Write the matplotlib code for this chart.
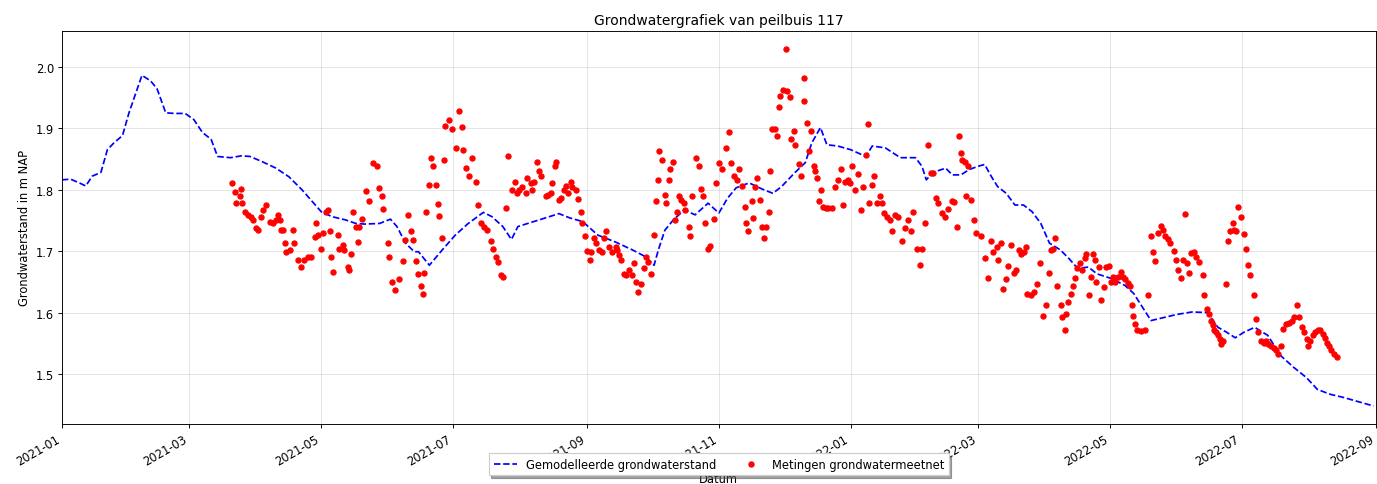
import matplotlib
matplotlib.use("Agg")
import matplotlib.pyplot as plt
import matplotlib.dates as mdates
import pandas as pd

start = pd.Timestamp("2021-01-01")

# gemodelleerde stand: dagen sinds 2021-01-01, m NAP
model_dag = [0, 4, 8, 11, 14, 18, 21, 24, 28, 31,
             37, 41, 44, 48, 52, 57, 61, 65, 69, 72,
             78, 83, 87, 93, 99, 105, 111, 120, 125, 131,
             136, 140, 147, 152, 155, 159, 163, 165, 170, 176,
             182, 188, 195, 199, 204, 208, 211, 221, 230, 235,
             241, 248, 256, 264, 270, 274, 276, 279, 283, 288,
             293, 299, 304, 308, 312, 318, 324, 329, 333, 339,
             344, 347, 351, 354, 359, 365, 372, 375, 381, 388,
             395, 398, 400, 403, 409, 412, 416, 420, 424, 427,
             430, 433, 437, 441, 445, 449, 453, 457, 462, 466,
             470, 475, 479, 486, 492, 496, 500, 504, 510, 516,
             523, 530, 535, 539, 543, 547, 552, 558, 564, 570,
             576, 581, 587, 593, 600, 607]
model_stand = [1.816, 1.817, 1.811, 1.806, 1.822, 1.828, 1.865, 1.876, 1.888, 1.925,
               1.986, 1.977, 1.964, 1.925, 1.924, 1.924, 1.914, 1.893, 1.882, 1.854,
               1.852, 1.855, 1.854, 1.845, 1.835, 1.821, 1.800, 1.764, 1.756, 1.751,
               1.745, 1.744, 1.745, 1.752, 1.740, 1.713, 1.699, 1.699, 1.677, 1.702,
               1.726, 1.745, 1.763, 1.756, 1.740, 1.719, 1.740, 1.751, 1.761, 1.754,
               1.748, 1.726, 1.715, 1.702, 1.691, 1.677, 1.702, 1.734, 1.751, 1.767,
               1.759, 1.778, 1.762, 1.786, 1.803, 1.811, 1.801, 1.794, 1.805, 1.827,
               1.844, 1.876, 1.901, 1.873, 1.871, 1.865, 1.854, 1.871, 1.868, 1.852,
               1.852, 1.838, 1.816, 1.828, 1.835, 1.824, 1.824, 1.833, 1.838, 1.841,
               1.822, 1.805, 1.794, 1.775, 1.775, 1.764, 1.745, 1.713, 1.702, 1.688,
               1.672, 1.674, 1.663, 1.655, 1.644, 1.631, 1.609, 1.587, 1.592, 1.597,
               1.601, 1.600, 1.576, 1.568, 1.559, 1.568, 1.576, 1.563, 1.530, 1.511,
               1.494, 1.475, 1.467, 1.462, 1.455, 1.448]

# metingen grondwatermeetnet
meet_dag = [78.7, 79.9, 80.7, 82.2, 82.7, 83.5, 84.5, 86.0, 87.6, 88.4,
            89.9, 90.7, 92.2, 93.0, 94.5, 96.1, 97.6, 99.2, 99.9, 100.7,
            101.5, 102.1, 103.0, 103.8, 105.3, 106.8, 107.6, 109.1, 110.7, 112.2,
            113.8, 115.3, 116.9, 117.6, 118.4, 120.0, 120.7, 122.3, 122.9, 123.8,
            124.6, 125.3, 127.6, 128.4, 129.9, 130.7, 132.2, 133.0, 133.8, 134.6,
            136.1, 136.9, 137.6, 138.9, 140.7, 141.9, 143.8, 145.6, 146.9, 148.1,
            148.4, 150.7, 151.5, 152.7, 154.3, 156.1, 157.6, 158.9, 160.0, 161.5,
            162.6, 163.8, 164.6, 166.1, 166.9, 167.7, 168.5, 169.7, 170.8, 171.8,
            173.1, 173.8, 174.6, 175.8, 176.9, 177.4, 179.2, 180.7, 182.3, 183.8,
            185.1, 185.4, 186.9, 188.5, 189.7, 191.5, 192.7, 193.9, 195.4, 196.9,
            198.5, 199.5, 200.8, 202.0, 203.1, 204.2, 205.7, 206.6, 208.2, 209.7,
            210.8, 211.5, 213.1, 214.6, 215.4, 216.9, 217.7, 218.5, 220.0, 220.8,
            221.6, 223.9, 225.1, 226.2, 226.9, 228.2, 228.8, 230.0, 230.8, 232.3,
            233.1, 234.3, 235.4, 236.2, 237.7, 238.9, 240.0, 240.8, 242.0, 243.1,
            244.2, 244.7, 246.2, 247.0, 248.5, 249.7, 250.8, 251.9, 253.1, 254.7,
            256.2, 257.0, 257.7, 258.5, 260.0, 261.1, 262.4, 263.6, 264.7, 265.5,
            266.7, 267.8, 269.3, 270.3, 271.3, 272.8, 273.9, 275.0, 275.9, 276.5,
            277.7, 279.0, 279.6, 280.8, 281.6, 282.7, 283.6, 284.7, 285.5, 286.7,
            287.8, 288.5, 290.1, 290.8, 291.6, 293.2, 294.7, 295.5, 296.5, 297.8,
            299.0, 300.1, 301.6, 302.7, 303.9, 305.4, 307.3, 308.5, 309.8, 310.9,
            312.4, 313.5, 314.7, 315.9, 316.5, 317.5, 319.3, 319.6, 320.6, 321.6,
            323.2, 323.9, 324.7, 325.8, 327.0, 327.8, 328.5, 329.8, 330.9, 331.6,
            332.4, 333.5, 335.0, 335.5, 337.0, 337.5, 338.6, 339.4, 340.9, 342.1,
            343.2, 343.6, 344.7, 345.8, 346.7, 347.8, 348.6, 349.3, 350.4, 351.4,
            352.4, 353.5, 354.7, 356.2, 357.8, 359.3, 360.6, 361.6, 362.4, 363.6,
            364.7, 365.8, 367.1, 368.3, 369.8, 370.9, 372.0, 373.2, 373.6, 374.8,
            375.6, 377.0, 378.6, 379.4, 380.6, 381.7, 383.2, 384.3, 385.5, 386.7,
            388.6, 390.2, 391.7, 392.9, 394.0, 395.5, 397.1, 398.2, 399.4, 400.9,
            402.2, 403.2, 404.3, 405.5, 407.1, 408.6, 410.2, 411.7, 413.0, 414.0,
            415.1, 416.1, 416.6, 417.9, 418.2, 419.4, 420.6, 422.2, 423.2, 425.5,
            427.1, 428.6, 429.9, 431.0, 432.5, 433.3, 434.5, 435.6, 436.7, 437.9,
            439.4, 440.6, 441.7, 442.8, 444.0, 445.3, 446.3, 446.8, 448.4, 449.9,
            451.4, 452.5, 454.0, 455.6, 456.7, 457.9, 458.8, 459.7, 460.6, 462.2,
            462.8, 464.1, 464.8, 465.6, 466.8, 467.9, 468.7, 469.9, 471.0, 472.1,
            473.3, 474.1, 475.1, 476.4, 477.1, 477.9, 478.7, 479.8, 481.0, 482.2,
            483.3, 484.4, 485.3, 486.4, 487.4, 488.7, 489.9, 491.0, 492.1, 493.3,
            494.5, 495.2, 495.6, 496.4, 497.6, 499.2, 501.0, 502.5, 503.8, 504.8,
            505.9, 507.2, 508.4, 509.5, 510.5, 511.8, 513.0, 514.5, 515.6, 516.7,
            517.9, 518.7, 519.5, 520.7, 521.8, 522.6, 523.8, 524.9, 526.4, 527.9,
            528.7, 529.9, 531.0, 531.8, 532.6, 533.0, 534.1, 534.9, 535.7, 536.4,
            537.2, 538.7, 539.8, 540.7, 541.8, 542.6, 543.5, 544.4, 545.6, 546.9,
            547.9, 548.7, 550.0, 551.5, 552.6, 553.7, 554.9, 556.1, 557.2, 558.3,
            559.5, 560.7, 561.8, 562.9, 564.1, 564.9, 566.4, 568.0, 569.1, 570.3,
            571.5, 572.6, 573.7, 574.9, 576.1, 576.8, 577.7, 578.8, 579.9, 581.1,
            582.3, 583.4, 584.5, 585.4, 586.5, 587.5, 588.8, 590.0]
meet_stand = [1.811, 1.796, 1.778, 1.789, 1.801, 1.778, 1.764, 1.759, 1.756, 1.751,
              1.737, 1.734, 1.756, 1.767, 1.775, 1.748, 1.745, 1.751, 1.759, 1.751,
              1.734, 1.734, 1.713, 1.699, 1.702, 1.734, 1.713, 1.685, 1.674, 1.685,
              1.690, 1.690, 1.723, 1.745, 1.726, 1.704, 1.730, 1.764, 1.767, 1.732,
              1.690, 1.666, 1.726, 1.704, 1.710, 1.702, 1.674, 1.670, 1.696, 1.764,
              1.740, 1.715, 1.740, 1.753, 1.797, 1.781, 1.843, 1.839, 1.803, 1.789,
              1.768, 1.713, 1.690, 1.650, 1.636, 1.655, 1.684, 1.718, 1.759, 1.732,
              1.718, 1.684, 1.663, 1.643, 1.631, 1.664, 1.763, 1.808, 1.852, 1.838,
              1.808, 1.777, 1.757, 1.722, 1.848, 1.903, 1.913, 1.899, 1.868, 1.928,
              1.902, 1.865, 1.835, 1.822, 1.852, 1.813, 1.775, 1.746, 1.740, 1.734,
              1.717, 1.703, 1.690, 1.682, 1.661, 1.658, 1.770, 1.854, 1.800, 1.813,
              1.794, 1.800, 1.805, 1.794, 1.819, 1.811, 1.800, 1.813, 1.845, 1.830,
              1.822, 1.789, 1.792, 1.794, 1.811, 1.838, 1.845, 1.783, 1.786, 1.800,
              1.806, 1.794, 1.812, 1.805, 1.800, 1.785, 1.764, 1.746, 1.725, 1.700,
              1.685, 1.699, 1.721, 1.713, 1.702, 1.699, 1.721, 1.732, 1.707, 1.699,
              1.707, 1.702, 1.693, 1.685, 1.663, 1.661, 1.669, 1.661, 1.680, 1.650,
              1.633, 1.647, 1.672, 1.690, 1.682, 1.663, 1.726, 1.782, 1.815, 1.863,
              1.848, 1.792, 1.778, 1.815, 1.834, 1.845, 1.750, 1.764, 1.789, 1.783,
              1.779, 1.767, 1.740, 1.725, 1.789, 1.852, 1.838, 1.801, 1.789, 1.745,
              1.704, 1.708, 1.753, 1.811, 1.844, 1.834, 1.868, 1.894, 1.844, 1.822,
              1.815, 1.834, 1.806, 1.772, 1.745, 1.732, 1.781, 1.754, 1.805, 1.819,
              1.783, 1.740, 1.722, 1.740, 1.763, 1.831, 1.899, 1.899, 1.887, 1.934,
              1.953, 1.962, 2.029, 1.961, 1.950, 1.882, 1.895, 1.873, 1.841, 1.822,
              1.944, 1.981, 1.909, 1.863, 1.895, 1.838, 1.830, 1.819, 1.781, 1.799,
              1.772, 1.770, 1.770, 1.770, 1.805, 1.815, 1.833, 1.775, 1.812, 1.816,
              1.811, 1.838, 1.800, 1.826, 1.767, 1.805, 1.857, 1.906, 1.778, 1.808,
              1.822, 1.778, 1.789, 1.778, 1.762, 1.756, 1.751, 1.732, 1.759, 1.756,
              1.717, 1.737, 1.751, 1.732, 1.764, 1.703, 1.677, 1.704, 1.745, 1.873,
              1.827, 1.827, 1.786, 1.778, 1.762, 1.756, 1.768, 1.781, 1.780, 1.740,
              1.887, 1.860, 1.849, 1.845, 1.790, 1.838, 1.783, 1.751, 1.729, 1.725,
              1.688, 1.657, 1.717, 1.699, 1.707, 1.686, 1.713, 1.639, 1.655, 1.675,
              1.710, 1.664, 1.669, 1.702, 1.696, 1.699, 1.707, 1.631, 1.628, 1.633,
              1.647, 1.680, 1.594, 1.613, 1.664, 1.702, 1.703, 1.721, 1.644, 1.612,
              1.592, 1.572, 1.597, 1.617, 1.631, 1.644, 1.657, 1.672, 1.680, 1.669,
              1.688, 1.695, 1.628, 1.658, 1.696, 1.685, 1.650, 1.674, 1.620, 1.641,
              1.674, 1.676, 1.650, 1.658, 1.650, 1.658, 1.666, 1.658, 1.655, 1.648,
              1.643, 1.612, 1.595, 1.582, 1.572, 1.570, 1.571, 1.628, 1.725, 1.699,
              1.684, 1.729, 1.741, 1.734, 1.725, 1.719, 1.713, 1.700, 1.685, 1.670,
              1.657, 1.685, 1.760, 1.680, 1.664, 1.697, 1.699, 1.690, 1.682, 1.661,
              1.628, 1.606, 1.598, 1.587, 1.579, 1.571, 1.568, 1.563, 1.557, 1.549,
              1.553, 1.647, 1.717, 1.732, 1.746, 1.734, 1.732, 1.772, 1.755, 1.728,
              1.703, 1.677, 1.661, 1.628, 1.590, 1.568, 1.554, 1.551, 1.553, 1.549,
              1.546, 1.543, 1.539, 1.533, 1.546, 1.573, 1.582, 1.583, 1.587, 1.592,
              1.612, 1.592, 1.577, 1.568, 1.557, 1.546, 1.553, 1.564, 1.568, 1.572,
              1.571, 1.565, 1.559, 1.551, 1.546, 1.539, 1.533, 1.527]

model_datum = start + pd.to_timedelta(model_dag, unit="D")
meet_datum = start + pd.to_timedelta(meet_dag, unit="D")

fig, ax = plt.subplots(figsize=(16.6, 5.843), dpi=83)

ax.plot(model_datum, model_stand, "--", color="blue", linewidth=1.5,
        label="Gemodelleerde grondwaterstand")
ax.plot(meet_datum, meet_stand, "o", color="red", markersize=4.5, linestyle="none",
        label="Metingen grondwatermeetnet")

ax.set_xlim(pd.Timestamp("2021-01-01"), pd.Timestamp("2022-09-01"))
ax.xaxis.set_major_locator(mdates.MonthLocator(bymonth=[1, 3, 5, 7, 9, 11]))
ax.xaxis.set_major_formatter(mdates.DateFormatter("%Y-%m"))
ax.grid(True, alpha=0.35)

ax.set_title("Grondwatergrafiek van peilbuis 117")
ax.set_xlabel("Datum")
ax.set_ylabel("Grondwaterstand in m NAP")

fig.autofmt_xdate()
ax.legend(loc="upper center", bbox_to_anchor=(0.5, -0.06), ncol=2,
          shadow=True, framealpha=1, fancybox=False)

fig.subplots_adjust(left=0.045, right=0.9985, bottom=0.124, top=0.934)
fig.savefig("out.png", dpi=83)
